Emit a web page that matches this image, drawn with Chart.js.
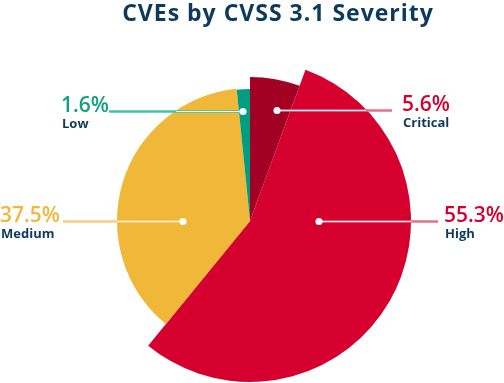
<!DOCTYPE html>
<html><head><meta charset="utf-8">
<script src="https://cdn.jsdelivr.net/npm/chart.js@4/dist/chart.umd.min.js"></script>
<style>html,body{margin:0;padding:0;background:#fff}#wrap{width:504px;height:383px;position:relative}canvas{display:block}</style>
</head><body><div id="wrap"><canvas id="c" width="504" height="383"></canvas></div>
<script>
// ---- data ----
const titleText = 'CVEs by CVSS 3.1 Severity';
const categories = ['Critical', 'High', 'Medium', 'Low'];
const percentages = [5.6, 55.3, 37.5, 1.6];
const percentLabels = ['5.6%', '55.3%', '37.5%', '1.6%'];

// ---- style ----
const sliceColors = ['#a30025', '#d6002f', '#f0b738', '#009e80'];
const labelColors = ['#d6002f', '#d6002f', '#f0b738', '#12a084'];
const lineColors = ['#e5708a', '#e5708a', '#f5cf7a', '#3cc3a8'];
const navy = '#0b3a5e';
const radiusScale = [144 / 133, 161 / 133, 1, 132 / 133];
// dot offset from pie centre, leader line end x, text x
const labelLayout = [
  { dx: 27, dy: -111, lineEnd: 392, textX: 402 },
  { dx: 69, dy: 0, lineEnd: 438, textX: 444 },
  { dx: -67, dy: 0, lineEnd: 63, textX: 0 },
  { dx: -7, dy: -110, lineEnd: 109, textX: 61 }
];

const radiusPlugin = {
  id: 'varRadius',
  afterDatasetsUpdate(chart) {
    const meta = chart.getDatasetMeta(0);
    meta.data.forEach((arc, i) => { arc.outerRadius = arc.outerRadius * radiusScale[i]; });
  }
};

const labelPlugin = {
  id: 'labels',
  afterDraw(chart) {
    const ctx = chart.ctx;
    const meta = chart.getDatasetMeta(0);
    const cx = meta.data[0].x, cy = meta.data[0].y;
    ctx.save();
    // title
    ctx.fillStyle = navy;
    ctx.font = 'bold 23px "Open Sans"';
    ctx.letterSpacing = '1px';
    ctx.textAlign = 'center';
    ctx.textBaseline = 'alphabetic';
    ctx.fillText(titleText, 278, 21);
    ctx.letterSpacing = '0px';

    labelLayout.forEach((L, i) => {
      const dotX = cx + L.dx, y = cy + L.dy;
      const dir = L.lineEnd > dotX ? 1 : -1;
      // find where the line exits the pie
      let exitX = dotX;
      for (let x = dotX; dir > 0 ? x <= L.lineEnd : x >= L.lineEnd; x += dir) {
        if (meta.data.some(a => a.inRange(x, y))) exitX = x; else break;
      }
      ctx.lineCap = 'butt';
      ctx.strokeStyle = lineColors[i];
      ctx.lineWidth = 2.4;
      ctx.beginPath(); ctx.moveTo(dotX, y + 0.5); ctx.lineTo(L.lineEnd, y + 0.5); ctx.stroke();
      if (Math.abs(exitX - dotX) > 8) {
        ctx.strokeStyle = 'rgba(255,255,255,0.85)';
        ctx.lineWidth = 1;
        ctx.beginPath(); ctx.moveTo(dotX, y + 0.5); ctx.lineTo(exitX, y + 0.5); ctx.stroke();
      }
      ctx.fillStyle = '#fff';
      ctx.beginPath(); ctx.arc(dotX, y + 0.5, 3.6, 0, Math.PI * 2); ctx.fill();

      ctx.textAlign = 'left';
      ctx.fillStyle = labelColors[i];
      ctx.font = '600 21px "Open Sans"';
      ctx.fillText(percentLabels[i], L.textX, y + 1);
      ctx.fillStyle = navy;
      ctx.font = 'bold 13px "Open Sans"';
      ctx.fillText(categories[i], L.textX + 1, y + 17);
    });
    ctx.restore();
  }
};

new Chart(document.getElementById('c'), {
  type: 'pie',
  data: {
    labels: categories,
    datasets: [{ data: percentages, backgroundColor: sliceColors, borderWidth: 0, clip: false }]
  },
  options: {
    responsive: false,
    animation: false,
    events: [],
    layout: { padding: { left: 117, right: 121, top: 88, bottom: 29 } },
    plugins: { legend: { display: false }, tooltip: { enabled: false }, title: { display: false } }
  },
  plugins: [radiusPlugin, labelPlugin]
});
</script></body></html>
